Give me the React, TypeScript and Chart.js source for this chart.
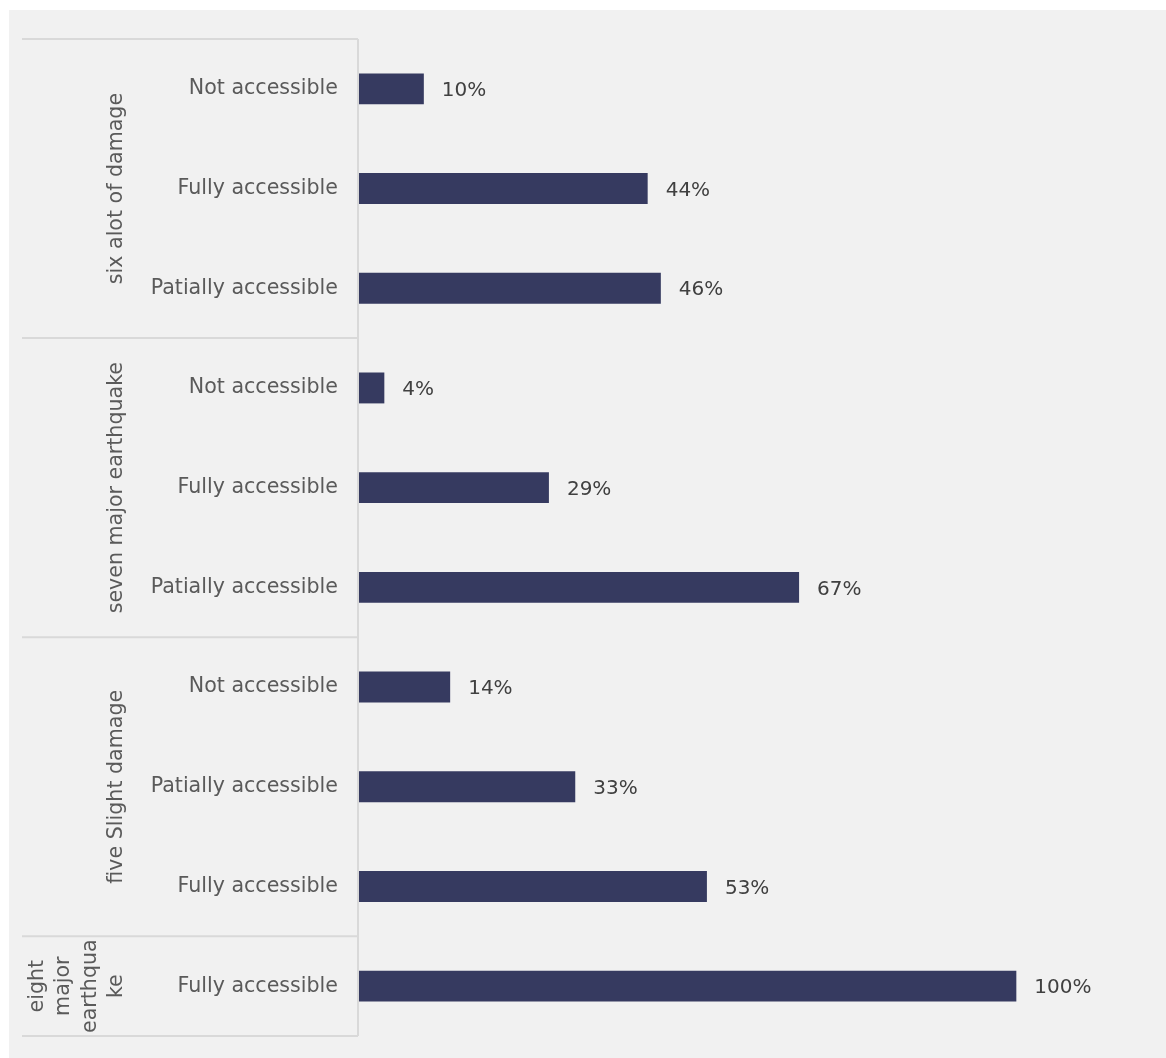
import React, { useEffect, useRef } from "react";
import { Chart, registerables } from "chart.js";

Chart.register(...registerables);

const categories = [
  "Not accessible",
  "Fully accessible",
  "Patially accessible",
  "Not accessible",
  "Fully accessible",
  "Patially accessible",
  "Not accessible",
  "Patially accessible",
  "Fully accessible",
  "Fully accessible",
];
const values = [10, 44, 46, 4, 29, 67, 14, 33, 53, 100];
const groups = [
  { lines: ["six alot of damage"], start: 0, end: 2 },
  { lines: ["seven major earthquake"], start: 3, end: 5 },
  { lines: ["five Slight damage"], start: 6, end: 8 },
  { lines: ["eight", "major", "earthqua", "ke"], start: 9, end: 9 },
];

const FONT = '"DejaVu Sans", sans-serif';
const LABEL_COLOR = "#5a5a5a";
const LINE_COLOR = "#d9d9d9";

const overlayPlugin = {
  id: "overlay",
  afterDatasetsDraw(chart: any) {
    const { ctx, chartArea, scales } = chart;
    const y = scales.y;
    const left = chartArea.left;
    const step = (chartArea.bottom - chartArea.top) / categories.length;
    ctx.save();
    // axis line
    ctx.strokeStyle = LINE_COLOR;
    ctx.lineWidth = 2;
    ctx.beginPath();
    ctx.moveTo(left, chartArea.top);
    ctx.lineTo(left, chartArea.bottom);
    ctx.stroke();
    // group boundaries
    const bounds = [0, 3, 6, 9, 10];
    bounds.forEach((b) => {
      const yy = chartArea.top + b * step;
      ctx.beginPath();
      ctx.moveTo(13, yy);
      ctx.lineTo(left, yy);
      ctx.stroke();
    });
    // category labels
    ctx.fillStyle = LABEL_COLOR;
    ctx.font = `20.6px ${FONT}`;
    ctx.textAlign = "right";
    ctx.textBaseline = "middle";
    categories.forEach((c, i) => {
      ctx.fillText(c, left - 20, y.getPixelForValue(i));
    });
    // group labels
    groups.forEach((g) => {
      const cy = (chartArea.top + g.start * step + chartArea.top + (g.end + 1) * step) / 2;
      const n = g.lines.length;
      const lh = 26.5;
      g.lines.forEach((t, k) => {
        const cx = 108 - (n - 1 - k) * lh;
        ctx.save();
        ctx.translate(cx, cy);
        ctx.rotate(-Math.PI / 2);
        ctx.textAlign = "center";
        ctx.textBaseline = "middle";
        ctx.fillText(t, 0, 0);
        ctx.restore();
      });
    });
    // value labels
    const meta = chart.getDatasetMeta(0);
    ctx.fillStyle = "#404040";
    ctx.font = `20px ${FONT}`;
    ctx.textAlign = "left";
    meta.data.forEach((el: any, i: number) => {
      ctx.fillText(values[i] + "%", el.x + 18, el.y + 2);
    });
    ctx.restore();
  },
};

export default function App() {
  const ref = useRef<HTMLCanvasElement>(null);
  useEffect(() => {
    if (!ref.current) return;
    const chart = new Chart(ref.current, {
      type: "bar",
      data: {
        labels: categories,
        datasets: [
          {
            data: values,
            backgroundColor: "#363a60",
            borderWidth: 0,
            categoryPercentage: 1,
            barPercentage: 0.31,
          },
        ],
      },
      options: {
        indexAxis: "y",
        animation: false,
        responsive: false,
        maintainAspectRatio: false,
        layout: { padding: { left: 349, top: 29, bottom: 22, right: 18 } },
        scales: {
          x: { display: false, min: 0, max: 120 },
          y: { display: false },
        },
        plugins: { legend: { display: false }, tooltip: { enabled: false } },
      },
      plugins: [overlayPlugin],
    });
    return () => chart.destroy();
  }, []);
  return (
    <div
      style={{
        position: "absolute",
        left: 9,
        top: 10,
        width: 1157,
        height: 1048,
        background: "#f1f1f1",
      }}
    >
      <canvas ref={ref} width={1157} height={1048} style={{ display: "block" }} />
    </div>
  );
}
